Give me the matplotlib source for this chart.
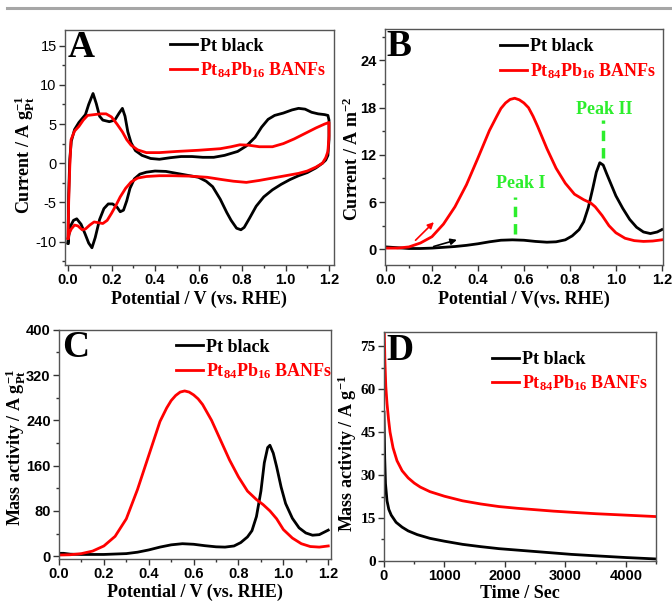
import matplotlib
matplotlib.use("Agg")
import matplotlib.pyplot as plt
from matplotlib import ticker
from matplotlib.lines import Line2D
from matplotlib.font_manager import FontProperties

plt.rcParams["font.family"] = "Liberation Serif"
plt.rcParams["font.weight"] = "bold"
plt.rcParams["axes.unicode_minus"] = False
plt.rcParams["mathtext.fontset"] = "custom"
plt.rcParams["mathtext.rm"] = "Liberation Serif:bold"
plt.rcParams["mathtext.it"] = "Liberation Serif:bold"
plt.rcParams["mathtext.bf"] = "Liberation Serif:bold"

RED = "#ff0000"
GREEN = "#2cee2c"
LABEL_PT = "Pt black"
LABEL_PTPB = "Pt$_{84}$Pb$_{16}$ BANFs"

# ---- panel A: cyclic voltammograms (anodic then cathodic sweep) ----
cv_black_v = [0.0, 0.003, 0.008, 0.015, 0.03, 0.05, 0.08, 0.095, 0.115, 0.13, 0.145, 0.16,
              0.19, 0.215, 0.235, 0.25, 0.262, 0.275, 0.29, 0.31, 0.34, 0.38, 0.42, 0.47,
              0.52, 0.57, 0.62, 0.67, 0.72, 0.78, 0.82, 0.86, 0.89, 0.92, 0.95, 0.99, 1.03,
              1.06, 1.09, 1.12, 1.15, 1.18, 1.195, 1.2, 1.2,
              1.195, 1.185, 1.17, 1.14, 1.1, 1.06, 1.02, 0.98, 0.94, 0.9, 0.865, 0.835, 0.81,
              0.795, 0.775, 0.75, 0.73, 0.7, 0.665, 0.635, 0.6, 0.56, 0.5, 0.45, 0.4, 0.36,
              0.33, 0.305, 0.285, 0.27, 0.255, 0.24, 0.225, 0.205, 0.185, 0.165, 0.145, 0.125,
              0.11, 0.095, 0.078, 0.06, 0.04, 0.025, 0.012, 0.004, 0.0]
cv_black_i = [-10.2, -4.0, 0.5, 2.8, 4.3, 5.2, 6.2, 7.5, 8.9, 7.6, 6.0, 5.5,
              5.3, 5.5, 6.4, 7.0, 6.0, 4.0, 2.6, 1.6, 1.0, 0.6, 0.5, 0.7,
              0.85, 0.85, 0.75, 0.75, 1.0, 1.5, 2.2, 3.3, 4.6, 5.6, 6.1, 6.4, 6.8,
              7.0, 6.9, 6.5, 6.3, 6.2, 6.1, 5.5, 3.0,
              1.0, 0.4, 0.0, -0.6, -1.2, -1.6, -2.1, -2.7, -3.4, -4.3, -5.5, -7.0, -8.2,
              -8.5, -8.3, -7.3, -6.3, -4.6, -3.0, -2.3, -1.8, -1.6, -1.3, -1.05, -1.0, -1.15,
              -1.4, -2.0, -3.2, -4.8, -6.0, -6.2, -5.6, -5.2, -5.2, -5.8, -7.2, -9.5,
              -10.8, -10.2, -9.0, -7.8, -7.1, -7.3, -8.0, -9.2, -10.2]

cv_red_v = [0.0, 0.003, 0.008, 0.014, 0.03, 0.05, 0.07, 0.09, 0.12, 0.15, 0.175, 0.2, 0.225,
            0.25, 0.27, 0.29, 0.32, 0.36, 0.42, 0.5, 0.6, 0.7, 0.75, 0.79, 0.83, 0.88, 0.94,
            0.99, 1.04, 1.09, 1.14, 1.18, 1.2, 1.2,
            1.195, 1.185, 1.17, 1.14, 1.1, 1.06, 1.0, 0.94, 0.88, 0.82, 0.76, 0.71, 0.64,
            0.56, 0.48, 0.42, 0.36, 0.32, 0.29, 0.265, 0.24, 0.22, 0.2, 0.18, 0.16, 0.14,
            0.12, 0.1, 0.08, 0.065, 0.045, 0.03, 0.015, 0.005, 0.0]
cv_red_i = [-9.6, -5.0, -0.5, 3.0, 4.1, 4.7, 5.5, 6.1, 6.2, 6.3, 6.3, 5.9, 5.0,
            4.0, 3.0, 2.3, 1.7, 1.35, 1.35, 1.5, 1.65, 1.85, 2.1, 2.35, 2.3, 2.1, 2.1,
            2.5, 3.1, 3.8, 4.5, 5.0, 5.2, 3.5,
            1.5, 0.7, 0.0, -0.5, -1.0, -1.3, -1.6, -1.9, -2.2, -2.45, -2.3, -2.1, -1.8,
            -1.65, -1.6, -1.6, -1.7, -1.9, -2.4, -3.2, -4.3, -5.4, -6.4, -7.3, -7.7, -7.6,
            -7.5, -7.9, -8.4, -8.5, -8.0, -7.9, -8.4, -9.0, -9.6]

# ---- panel B: specific activity (A m^-2) ----
b_black_v = [0.0, 0.05, 0.1, 0.15, 0.2, 0.25, 0.3, 0.35, 0.4, 0.45, 0.5, 0.55, 0.6, 0.65,
             0.7, 0.74, 0.78, 0.81, 0.84, 0.86, 0.88, 0.9, 0.915, 0.93, 0.945, 0.96, 0.98,
             1.0, 1.03, 1.06, 1.09, 1.12, 1.15, 1.18, 1.2]
b_black_i = [0.3, 0.2, 0.1, 0.1, 0.15, 0.25, 0.35, 0.5, 0.7, 0.95, 1.15, 1.2, 1.15, 1.0,
             0.9, 0.95, 1.2, 1.7, 2.5, 3.5, 5.3, 7.8, 9.8, 11.0, 10.7, 9.6, 8.2,
             6.8, 5.2, 3.8, 2.8, 2.2, 2.0, 2.2, 2.5]
b_red_v = [0.0, 0.05, 0.1, 0.15, 0.2, 0.25, 0.3, 0.35, 0.4, 0.45, 0.48, 0.5, 0.52, 0.54,
           0.56, 0.58, 0.6, 0.62, 0.64, 0.66, 0.7, 0.74, 0.78, 0.82, 0.86, 0.89, 0.91, 0.94,
           0.97, 1.0, 1.04, 1.08, 1.12, 1.16, 1.2]
b_red_i = [0.15, 0.15, 0.3, 0.8, 1.6, 3.2, 5.4, 8.2, 11.6, 15.1, 16.8, 17.9, 18.6, 19.05,
           19.2, 19.0, 18.6, 18.0, 16.9, 15.6, 12.8, 10.3, 8.4, 7.0, 6.3, 5.9, 5.4, 4.3,
           3.0, 2.1, 1.4, 1.1, 1.0, 1.05, 1.2]

# ---- panel C: mass activity vs potential ----
c_black_v = [0.0, 0.02, 0.05, 0.1, 0.2, 0.3, 0.35, 0.4, 0.45, 0.5, 0.55, 0.6, 0.65, 0.7,
             0.74, 0.78, 0.81, 0.84, 0.86, 0.88, 0.9, 0.915, 0.93, 0.94, 0.955, 0.97, 0.99,
             1.01, 1.04, 1.07, 1.1, 1.13, 1.16, 1.2]
c_black_i = [5, 5, 3.5, 3, 3, 4.5, 7, 11, 16, 20, 22, 21, 18.5, 16.5,
             16, 18, 24, 34, 45, 70, 115, 165, 192, 196, 182, 158, 122,
             93, 67, 50, 41, 37, 38, 46]
c_red_v = [0.0, 0.05, 0.1, 0.15, 0.2, 0.25, 0.3, 0.35, 0.4, 0.45, 0.48, 0.5, 0.52, 0.54,
           0.56, 0.58, 0.6, 0.62, 0.64, 0.68, 0.72, 0.76, 0.8, 0.84, 0.88, 0.91, 0.94, 0.97,
           1.0, 1.04, 1.08, 1.12, 1.16, 1.2]
c_red_i = [2, 2.5, 4.5, 9, 18, 35, 66, 118, 178, 238, 262, 275, 284, 290,
           292, 290, 285, 278, 268, 240, 205, 170, 140, 115, 100, 91, 80, 66,
           47, 32, 22, 17, 16, 18]

# ---- panel D: chronoamperometry ----
d_black_t = [0, 5, 12, 25, 50, 80, 120, 200, 300, 400, 550, 760, 1000, 1300, 1600, 1900,
             2200, 2500, 2800, 3100, 3500, 4000, 4500]
d_black_i = [52, 45, 36, 27, 21, 18, 16, 13.5, 11.8, 10.5, 9.2, 7.9, 6.9, 5.8, 5.0, 4.3,
             3.8, 3.3, 2.8, 2.3, 1.8, 1.2, 0.7]
d_red_t = [0, 5, 15, 30, 50, 75, 100, 150, 215, 300, 400, 500, 600, 760, 1000, 1300, 1600,
           1900, 2200, 2500, 2800, 3100, 3500, 4000, 4500]
d_red_i = [95, 80, 70, 61, 55, 49.5, 45, 39.5, 35, 31.5, 29, 27.2, 25.8, 24.2, 22.6, 21,
           19.9, 19.0, 18.4, 17.9, 17.4, 17.0, 16.5, 16.0, 15.5]

fig = plt.figure(figsize=(6.72, 6.03), dpi=100)
fig.add_artist(Line2D([7 / 672, 1], [1 - 8 / 603] * 2, color="#a6a6a6", lw=2.2))

axA = fig.add_axes([0.0967, 0.5605, 0.400, 0.3897])
axB = fig.add_axes([0.573, 0.5605, 0.4136, 0.3914])
axC = fig.add_axes([0.0878, 0.073, 0.405, 0.380])
axD = fig.add_axes([0.5714, 0.0697, 0.405, 0.380])

LW = 2.0
LABEL_SIZE = 13

fp_sb = FontProperties(family="Liberation Sans", weight="bold", size=10.5)
fp_sr = FontProperties(family="Liberation Sans", weight="normal", size=10.5)
fp_tb = FontProperties(family="Liberation Serif", weight="bold", size=11)


def style_axes(ax, xmaj, xmin, ymaj, ymin, xfont, yfont):
    ax.xaxis.set_major_locator(ticker.MultipleLocator(xmaj))
    ax.xaxis.set_minor_locator(ticker.MultipleLocator(xmin))
    ax.yaxis.set_major_locator(ticker.MultipleLocator(ymaj))
    ax.yaxis.set_minor_locator(ticker.MultipleLocator(ymin))
    ax.tick_params(which="both", direction="out", top=False, right=False, width=1,
                   color="#333333")
    ax.tick_params(which="major", length=4, pad=2)
    ax.tick_params(which="minor", length=2)
    for sp in ax.spines.values():
        sp.set_color("#555555")
        sp.set_linewidth(1)
    for lab in ax.get_xticklabels():
        lab.set_fontproperties(xfont)
    for lab in ax.get_yticklabels():
        lab.set_fontproperties(yfont)


def add_legend(ax, x, y):
    leg = ax.legend(loc="upper left", bbox_to_anchor=(x, y), frameon=False,
                    prop={"family": "Liberation Serif", "weight": "bold", "size": 13},
                    handlelength=1.5, handletextpad=0.15, labelspacing=0.3,
                    borderpad=0, borderaxespad=0)
    leg.get_texts()[1].set_color(RED)


def panel_letter(ax, letter, x, y):
    ax.text(x, y, letter, transform=ax.transAxes, fontsize=27, fontweight="bold",
            va="top", ha="left")


# A
axA.plot(cv_black_v, cv_black_i, color="black", lw=LW, label=LABEL_PT)
axA.plot(cv_red_v, cv_red_i, color=RED, lw=LW, label=LABEL_PTPB)
axA.set_xlim(-0.014, 1.222)
axA.set_ylim(-13, 17)
axA.xaxis.set_major_formatter(ticker.FormatStrFormatter("%.1f"))
style_axes(axA, 0.2, 0.1, 5, 2.5, fp_sb, fp_sr)
axA.set_xlabel("Potential / V (vs. RHE)", fontsize=LABEL_SIZE, fontweight="bold")
axA.set_ylabel(r"Current / A g$_{\mathrm{Pt}}^{-1}$", fontsize=LABEL_SIZE, fontweight="bold")
axA.xaxis.set_label_coords(0.5, -0.11)
axA.yaxis.set_label_coords(-0.104, 0.47)
add_legend(axA, 0.39, 0.968)
panel_letter(axA, "A", 0.008, 1.0)

# B
axB.plot(b_black_v, b_black_i, color="black", lw=LW, label=LABEL_PT)
axB.plot(b_red_v, b_red_i, color=RED, lw=LW, label=LABEL_PTPB)
axB.set_xlim(-0.004, 1.205)
axB.set_ylim(-2, 28)
axB.xaxis.set_major_formatter(ticker.FormatStrFormatter("%.1f"))
style_axes(axB, 0.2, 0.1, 6, 3, fp_sb, fp_sb)
axB.set_xlabel("Potential / V(vs. RHE)", fontsize=LABEL_SIZE, fontweight="bold")
axB.set_ylabel(r"Current / A m$^{-2}$", fontsize=LABEL_SIZE, fontweight="bold")
axB.xaxis.set_label_coords(0.5, -0.11)
axB.yaxis.set_label_coords(-0.083, 0.45)
add_legend(axB, 0.414, 0.96)
panel_letter(axB, "B", 0.006, 1.0)
axB.plot([0.56, 0.56], [2.0, 6.6], color=GREEN, lw=2.5, ls=(0, (3, 2)))
axB.plot([0.943, 0.943], [11.6, 16.4], color=GREEN, lw=2.5, ls=(0, (3, 2)))
axB.text(0.585, 8.4, "Peak I", color=GREEN, fontsize=13, fontweight="bold",
         ha="center", va="center")
axB.text(0.948, 17.8, "Peak II", color=GREEN, fontsize=13, fontweight="bold",
         ha="center", va="center")
axB.annotate("", xy=(0.217, 3.7), xytext=(0.12, 0.9),
             arrowprops=dict(arrowstyle="-|>", color=RED, lw=1.2, mutation_scale=9))
axB.annotate("", xy=(0.32, 1.3), xytext=(0.196, 0.26),
             arrowprops=dict(arrowstyle="-|>", color="black", lw=1.2, mutation_scale=9))

# C
axC.plot(c_black_v, c_black_i, color="black", lw=LW, label=LABEL_PT)
axC.plot(c_red_v, c_red_i, color=RED, lw=LW, label=LABEL_PTPB)
axC.set_xlim(0, 1.213)
axC.set_ylim(-5, 400)
axC.xaxis.set_major_formatter(ticker.FormatStrFormatter("%.1f"))
style_axes(axC, 0.2, 0.1, 80, 40, fp_sb, fp_sb)
axC.set_xlabel("Potential / V (vs. RHE)", fontsize=LABEL_SIZE, fontweight="bold")
axC.set_ylabel(r"Mass activity / A g$_{\mathrm{Pt}}^{-1}$", fontsize=LABEL_SIZE,
               fontweight="bold")
axC.xaxis.set_label_coords(0.5, -0.11)
axC.yaxis.set_label_coords(-0.114, 0.485)
add_legend(axC, 0.43, 0.962)
panel_letter(axC, "C", 0.01, 1.0)

# D
axD.plot(d_black_t, d_black_i, color="black", lw=LW, label=LABEL_PT)
axD.plot(d_red_t, d_red_i, color=RED, lw=LW, label=LABEL_PTPB)
axD.set_xlim(0, 4500)
axD.set_ylim(0, 80)
style_axes(axD, 1000, 500, 15, 7.5, fp_sb, fp_tb)
axD.set_xlabel("Time / Sec", fontsize=LABEL_SIZE, fontweight="bold")
axD.set_ylabel(r"Mass activity / A g$^{-1}$", fontsize=LABEL_SIZE, fontweight="bold")
axD.xaxis.set_label_coords(0.5, -0.105)
axD.yaxis.set_label_coords(-0.09, 0.47)
add_legend(axD, 0.397, 0.915)
panel_letter(axD, "D", 0.01, 0.995)

fig.savefig("out.png", dpi=100)
